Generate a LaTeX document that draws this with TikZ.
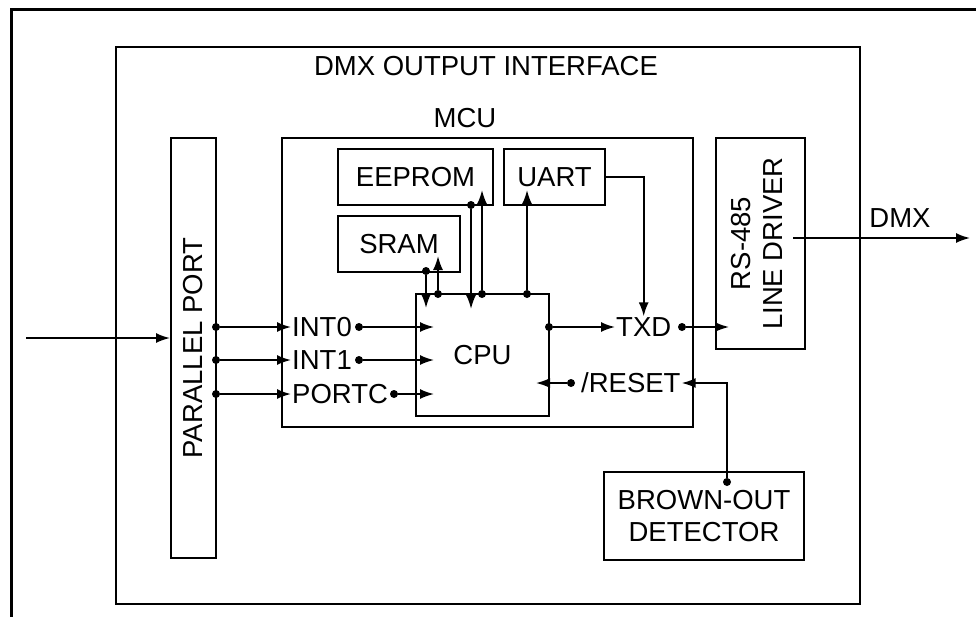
\documentclass[tikz,border=0pt]{standalone}
\usepackage{fontspec}
\setmainfont{Liberation Sans}
\usetikzlibrary{calc, arrows.meta, positioning}

\begin{document}
\begin{tikzpicture}[
    x=1pt, y=-1pt,
    every node/.style={font=\fontsize{27.5}{32}\selectfont},
    blk/.style={draw, line width=2pt, inner sep=0pt, align=center},
    pin/.style={inner sep=1pt},
    dot/.style={circle, fill, inner sep=0pt, minimum size=8pt},
    sig/.style={line width=1.8pt, -{Latex[length=14pt,width=10pt]}},
  ]
  \clip (0,0) rectangle (976,616);
  \draw[line width=3pt] (11,630) -- (11,9) -- (990,9);

  % frames
  \node[blk, minimum width=744, minimum height=557] (iface) at (488,325) {};
  \node (title) at (486,66) {DMX OUTPUT INTERFACE};
  \node[blk, minimum width=411, minimum height=289] (mcu) at (487.5,282.5) {};
  \node (mculbl) at (465,118) {MCU};

  % blocks
  \node[blk, minimum width=45, minimum height=420] (pport) at (193.5,348)
    {\rotatebox{90}{PARALLEL PORT}};
  \node[blk, minimum width=155, minimum height=56] (eeprom) at (415.5,177) {EEPROM};
  \node[blk, minimum width=101, minimum height=56] (uart) at (554.5,177) {UART};
  \node[blk, minimum width=122, minimum height=56] (sram) at (399,244) {SRAM};
  \node[blk, minimum width=133, minimum height=122] (cpu) at (482.5,355) {CPU};
  \node[blk, minimum width=89, minimum height=211] (driver) at (760.5,243.5)
    {\rotatebox{90}{\begin{tabular}{@{}c@{}}RS-485\\LINE DRIVER\end{tabular}}};
  \node[blk, minimum width=200, minimum height=88] (bod) at (704,516)
    {BROWN-OUT\\DETECTOR};

  % pin names
  \node[pin, anchor=west] (int0) at (291,327) {INT0};
  \node[pin, anchor=west] (int1) at (291,360) {INT1};
  \node[pin, anchor=west] (portc) at (291,394) {PORTC};
  \node[pin, anchor=west] (txd) at (615,327) {TXD};
  \node[pin, anchor=west] (rst) at (580,383) {/RESET};
  \node (dmx) at (900,218) {DMX};

  % junctions
  \node[dot] (pd0) at (216,327) {};
  \node[dot] (pd1) at (216,360) {};
  \node[dot] (pd2) at (216,394) {};
  \node[dot] (id0) at (359,327) {};
  \node[dot] (id1) at (359,360) {};
  \node[dot] (id2) at (394,394) {};
  \node[dot] (ct) at (549,327) {};
  \node[dot] (td) at (682,327) {};
  \node[dot] (rd) at (571,383) {};
  \node[dot] (bd) at (727,482) {};
  \node[dot] (sd) at (426,271) {};
  \node[dot] (cs) at (438,294) {};
  \node[dot] (ed) at (471,205) {};
  \node[dot] (ce) at (482,294) {};
  \node[dot] (cu) at (527,294) {};
  \coordinate (in) at (26,338);
  \coordinate (drvout) at (793,238);
  \coordinate (dmxend) at (970,238);

  % signals
  \draw[sig] (in) -- (in -| pport.west);
  \draw[sig] (pd0) -- (int0.west);
  \draw[sig] (pd1) -- (int1.west);
  \draw[sig] (pd2) -- (portc.west);
  \foreach \d in {id0, id1, id2}
    \draw[sig] (\d) -- ($(cpu.west |- \d)+(19,0)$);
  \draw[sig] (ct) -- (txd.west);
  \draw[sig] (td) -- ($(driver.west |- td)+(14,0)$);
  \draw[sig] (rd) -- ($(cpu.east |- rd)+(-14,0)$);
  \draw[sig] (bd) |- (rst.east);
  \draw[sig] (uart.east) -| (txd.north);
  \draw[sig] (drvout) -- (dmxend);
  \draw[sig] (sd) -- ++(0,37);
  \draw[sig] (cs) -- ++(0,-38);
  \draw[sig] (ed) -- ++(0,104);
  \draw[sig] (ce) -- ++(0,-104);
  \draw[sig] (cu) -- ++(0,-104);
\end{tikzpicture}
\end{document}
